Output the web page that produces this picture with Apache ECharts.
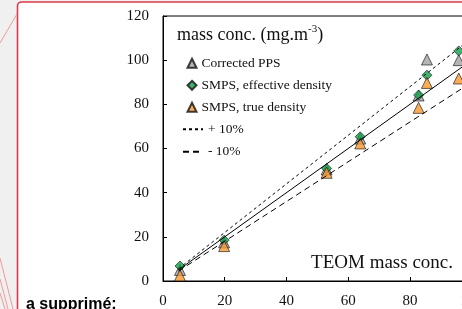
<!DOCTYPE html>
<html>
<head>
<meta charset="utf-8">
<script src="https://cdn.jsdelivr.net/npm/echarts@6/dist/echarts.min.js"></script>
<style>
    html, body { margin: 0; padding: 0; overflow: hidden; background: #f0f0f0; }
    #chart { width: 520px; height: 309px; }
</style>
</head>
<body>
<div id="chart"></div>
<script>
var teom = [5.5, 19.8, 53, 63.9, 82.8, 85.5, 95.8];
var correctedPPS = [5, 17.5, 50.5, 64.5, 84, 100.3, 100];
var smpsEffective = [6.8, 18.5, 51, 65.3, 84.2, 93.2, 104.2];
var smpsTrue = [2.5, 15.8, 49, 62.3, 78.4, 89.7, 91.7];

// reference lines, end points
var refX = [5, 100];
var oneToOne = [5, 100];
var plus10 = [5.5, 110];
var minus10 = [4.5, 90];

var xTicks = [0, 20, 40, 60, 80, 100];
var yTicks = [0, 20, 40, 60, 80, 100, 120];

function pairs(xs, ys) {
    var out = [];
    for (var i = 0; i < xs.length; i++) {
        out.push([xs[i], ys[i]]);
    }
    return out;
}

var serif = '"Liberation Serif", "Times New Roman", serif';

var chart = echarts.init(document.getElementById('chart'));

chart.setOption({
    animation: false,
    backgroundColor: 'transparent',
    textStyle: {
        fontFamily: serif
    },
    grid: {
        left: 163,
        top: 16,
        width: 308.7,
        height: 265,
        show: true,
        borderColor: '#000',
        borderWidth: 1,
        backgroundColor: 'transparent'
    },
    title: [{
        text: '{a|mass conc. (mg.m}{s|-3}{a|)}',
        left: 177,
        top: 24,
        padding: 0,
        textStyle: {
            fontWeight: 'normal',
            rich: {
                a: { fontFamily: serif, fontSize: 18, fontWeight: 'normal', color: '#111', lineHeight: 22 },
                s: { fontFamily: serif, fontSize: 11, fontWeight: 'normal', color: '#111', verticalAlign: 'top', lineHeight: 22 }
            }
        }
    }, {
        text: 'TEOM mass conc.',
        right: 67,
        top: 254,
        padding: 0,
        textStyle: {
            fontFamily: serif,
            fontSize: 19,
            fontWeight: 'normal',
            color: '#111'
        }
    }],
    legend: [{
        data: ['Corrected PPS', 'SMPS, effective density', 'SMPS, true density'],
        orient: 'vertical',
        left: 186.5,
        top: 55.3,
        padding: 0,
        itemWidth: 9,
        itemHeight: 9,
        itemGap: 6,
        textStyle: {
            fontFamily: serif,
            fontSize: 13.5,
            lineHeight: 16,
            color: '#111'
        }
    }, {
        data: [
            { name: '+ 10%', itemStyle: { opacity: 0 } },
            { name: '- 10%', itemStyle: { opacity: 0 } }
        ],
        orient: 'vertical',
        left: 182,
        top: 121.3,
        padding: 0,
        itemWidth: 20,
        itemHeight: 9,
        itemGap: 6.4,
        textStyle: {
            fontFamily: serif,
            fontSize: 13.5,
            lineHeight: 16,
            color: '#111'
        }
    }],
    xAxis: {
        type: 'value',
        min: xTicks[0],
        max: xTicks[xTicks.length - 1],
        interval: 20,
        axisLine: { show: true, onZero: false, lineStyle: { color: '#000', width: 1 } },
        axisTick: { show: true, inside: true, length: 4, lineStyle: { color: '#000' } },
        splitLine: { show: false },
        axisLabel: {
            margin: 13,
            fontFamily: serif,
            fontSize: 15,
            color: '#111'
        }
    },
    yAxis: {
        type: 'value',
        min: yTicks[0],
        max: yTicks[yTicks.length - 1],
        interval: 20,
        axisLine: { show: true, onZero: false, lineStyle: { color: '#000', width: 1 } },
        axisTick: { show: true, inside: true, length: 4, lineStyle: { color: '#000' } },
        splitLine: { show: false },
        axisLabel: {
            margin: 14,
            fontFamily: serif,
            fontSize: 15,
            color: '#111'
        }
    },
    series: [{
        name: '1:1',
        type: 'line',
        data: pairs(refX, oneToOne),
        showSymbol: false,
        symbol: 'none',
        itemStyle: { color: '#000' },
        lineStyle: { color: '#000', width: 1 }
    }, {
        name: '+ 10%',
        type: 'line',
        data: pairs(refX, plus10),
        showSymbol: false,
        symbol: 'none',
        itemStyle: { color: '#000' },
        lineStyle: { color: '#000', width: 1, type: [3, 3] }
    }, {
        name: '- 10%',
        type: 'line',
        data: pairs(refX, minus10),
        showSymbol: false,
        symbol: 'none',
        itemStyle: { color: '#000' },
        lineStyle: { color: '#000', width: 1, type: [6, 4] }
    }, {
        name: 'Corrected PPS',
        type: 'scatter',
        symbol: 'triangle',
        symbolSize: 11,
        data: pairs(teom, correctedPPS),
        itemStyle: { color: '#a3a3a3', borderColor: '#111', borderWidth: 0.8 }
    }, {
        name: 'SMPS, effective density',
        type: 'scatter',
        symbol: 'diamond',
        symbolSize: 10,
        data: pairs(teom, smpsEffective),
        itemStyle: { color: '#13a04a', borderColor: '#111', borderWidth: 0.8 }
    }, {
        name: 'SMPS, true density',
        type: 'scatter',
        symbol: 'triangle',
        symbolSize: 11,
        data: pairs(teom, smpsTrue),
        itemStyle: { color: '#f8992f', borderColor: '#111', borderWidth: 0.8 }
    }],
    graphic: [{
        type: 'rect',
        z: -10,
        shape: { x: 17.5, y: 2, width: 600, height: 400, r: 4 },
        style: { fill: '#fff', stroke: '#dc3b47', lineWidth: 1.6 }
    }, {
        type: 'line',
        z: -9,
        shape: { x1: 17, y1: 14, x2: 0, y2: 43 },
        style: { stroke: '#ee9a9a', lineWidth: 1 }
    }, {
        type: 'line',
        z: -9,
        shape: { x1: 0, y1: 258, x2: 13, y2: 309 },
        style: { stroke: '#ee9a9a', lineWidth: 1 }
    }, {
        type: 'line',
        z: -9,
        shape: { x1: 0, y1: 279, x2: 8, y2: 309 },
        style: { stroke: '#ee9a9a', lineWidth: 1 }
    }, {
        type: 'line',
        z: -9,
        shape: { x1: 0, y1: 293, x2: 5, y2: 309 },
        style: { stroke: '#ee9a9a', lineWidth: 1 }
    }, {
        type: 'text',
        z: 5,
        style: {
            x: 26,
            y: 304.5,
            text: 'a supprimé:',
            font: 'bold 16px "Liberation Sans", Arial, sans-serif',
            fill: '#000',
            verticalAlign: 'middle'
        }
    }]
});
</script>
</body>
</html>
